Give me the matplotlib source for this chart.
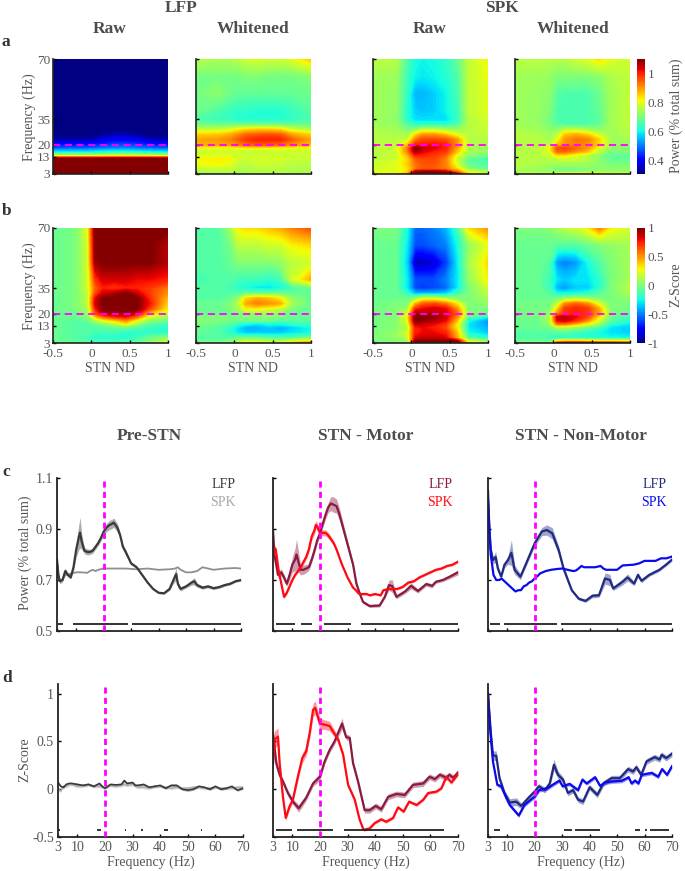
import numpy as np
import matplotlib
matplotlib.use("Agg")
import matplotlib.pyplot as plt
from matplotlib.cm import ScalarMappable
from matplotlib.colors import Normalize

plt.rcParams['font.family'] = ['Liberation Serif', 'DejaVu Serif']

W, H = 685, 871
GREY = '#555555'
MAG = '#ff00ff'

# heatmap grid: STN ND (columns), frequency in Hz (rows, from 3 up)
nd = [-0.5, -0.2, -0.05, 0.05, 0.15, 0.3, 0.45, 0.6, 0.75, 1]
freq = [3, 4, 6, 9, 12, 14, 16, 18, 20, 23, 26, 29, 32, 35, 40, 50, 60, 70]

a_lfp_raw = [
    [1.2] * 10, [1.2] * 10, [1.2] * 10, [1.2] * 10,
    [1.12, 1.12, 1.13, 1.12, 1.12, 1.13, 1.13, 1.12, 1.12, 1.12],
    [.72, .72, .72, .72, .73, .74, .74, .74, .73, .72],
    [.58, .58, .58, .59, .60, .61, .61, .60, .59, .58],
    [.48, .48, .48, .49, .50, .51, .51, .50, .49, .48],
    [.42, .42, .42, .43, .44, .46, .46, .45, .43, .42],
    [.34, .34, .34, .35, .38, .40, .40, .39, .35, .34],
    [.31, .31, .31, .31, .33, .34, .34, .33, .31, .31],
    [.31] * 10, [.31] * 10, [.31] * 10, [.31] * 10, [.31] * 10, [.31] * 10, [.31] * 10,
]
a_lfp_white = [
    [.76, .75, .76, .75, .76, .76, .76, .76, .76, .75],
    [.74, .74, .74, .74, .74, .74, .74, .74, .74, .74],
    [.77, .78, .78, .76, .76, .76, .77, .77, .76, .76],
    [.81, .82, .80, .77, .76, .78, .78, .77, .76, .76],
    [.82, .83, .82, .79, .78, .79, .79, .79, .78, .78],
    [.79, .79, .79, .78, .78, .78, .78, .78, .78, .78],
    [.77, .78, .78, .78, .77, .77, .78, .78, .78, .78],
    [.80, .80, .80, .81, .81, .81, .81, .80, .80, .80],
    [.88, .88, .89, .91, .93, .95, .94, .93, .90, .87],
    [.89, .90, .92, .95, .98, 1.0, 1.0, 1.0, .95, .89],
    [.85, .86, .88, .91, .94, .95, .96, .95, .89, .85],
    [.77, .77, .79, .82, .84, .85, .85, .84, .78, .75],
    [.69, .68, .68, .68, .68, .68, .68, .68, .68, .68],
    [.66, .64, .63, .62, .62, .62, .62, .62, .63, .66],
    [.69, .66, .64, .63, .63, .62, .62, .62, .64, .67],
    [.70, .72, .69, .68, .68, .68, .68, .68, .68, .69],
    [.70, .70, .70, .70, .71, .71, .70, .70, .70, .72],
    [.76, .75, .75, .76, .78, .79, .78, .78, .80, .86],
]
a_spk_raw = [
    [.82, .84, .90, 1.15, 1.2, 1.2, 1.2, 1.1, .85, .78],
    [.80, .80, .84, 1.08, 1.12, 1.12, 1.08, .95, .80, .76],
    [.78, .80, .84, .92, .95, .95, .92, .84, .72, .68],
    [.78, .80, .85, .93, .96, .96, .92, .78, .68, .66],
    [.76, .78, .85, .95, .97, .97, .92, .78, .68, .64],
    [.76, .78, .88, 1.0, 1.0, .98, .95, .80, .72, .70],
    [.76, .78, .92, 1.07, 1.03, 1.0, .98, .86, .74, .72],
    [.76, .78, .92, 1.12, 1.05, 1.03, 1.0, .88, .75, .74],
    [.76, .77, .86, 1.0, 1.0, 1.02, 1.0, .90, .75, .74],
    [.76, .76, .78, .92, .97, .97, .96, .90, .76, .76],
    [.76, .75, .74, .84, .90, .90, .86, .80, .76, .77],
    [.75, .74, .70, .72, .76, .76, .74, .72, .76, .78],
    [.74, .73, .66, .62, .62, .62, .62, .66, .76, .78],
    [.74, .72, .62, .58, .58, .58, .58, .63, .76, .79],
    [.74, .73, .62, .57, .56, .57, .60, .64, .77, .80],
    [.74, .73, .63, .55, .55, .57, .60, .65, .77, .80],
    [.74, .74, .64, .60, .59, .60, .62, .66, .77, .81],
    [.76, .76, .66, .61, .60, .61, .63, .68, .77, .82],
]
a_spk_white = [
    [.76, .76, .76, .86, .88, .88, .88, .85, .80, .78],
    [.74, .74, .74, .72, .72, .72, .73, .74, .74, .74],
    [.75, .74, .72, .70, .70, .70, .71, .72, .72, .72],
    [.76, .75, .74, .74, .74, .74, .74, .72, .70, .70],
    [.76, .76, .76, .78, .78, .78, .76, .72, .68, .68],
    [.76, .76, .78, .84, .84, .80, .77, .72, .68, .68],
    [.76, .76, .80, .94, .94, .90, .86, .76, .70, .70],
    [.76, .76, .82, .96, .97, .94, .90, .80, .72, .72],
    [.76, .76, .76, .86, .90, .92, .90, .84, .74, .72],
    [.76, .76, .74, .80, .90, .93, .92, .85, .74, .74],
    [.76, .75, .74, .76, .86, .88, .85, .78, .74, .76],
    [.75, .74, .72, .72, .76, .76, .74, .72, .74, .76],
    [.74, .73, .70, .67, .66, .66, .66, .68, .74, .77],
    [.74, .73, .70, .66, .66, .66, .66, .67, .74, .77],
    [.74, .73, .71, .66, .66, .66, .66, .68, .74, .77],
    [.74, .73, .72, .67, .66, .66, .66, .69, .74, .77],
    [.74, .74, .73, .71, .71, .71, .71, .72, .75, .77],
    [.76, .76, .76, .76, .76, .78, .80, .84, .80, .78],
]
b_lfp_raw = [
    [-.05, -.05, -.05, -.1, -.1, -.1, -.08, -.05, .1, .25],
    [-.05, -.1, -.1, -.15, -.15, -.15, -.15, -.1, 0, .15],
    [-.05, -.1, -.15, -.2, -.2, -.2, -.2, -.15, -.05, .05],
    [-.05, -.1, -.1, -.15, -.15, -.15, -.2, -.2, -.2, -.2],
    [-.05, -.1, -.1, -.1, -.1, -.05, -.05, -.1, -.15, -.2],
    [-.05, -.1, -.1, -.05, 0, .1, .3, .05, -.1, -.15],
    [-.05, -.1, -.05, .1, .25, .35, .5, .25, .05, -.05],
    [-.05, -.05, 0, .35, .55, .7, .75, .55, .2, .05],
    [-.05, -.05, .05, .6, .85, .9, .95, .8, .4, .15],
    [-.05, 0, .1, .75, 1.3, 1.3, 1.4, 1.3, .7, .3],
    [-.05, 0, .15, .85, 1.4, 1.4, 1.5, 1.4, .8, .35],
    [-.05, 0, .15, .8, 1.3, 1.3, 1.4, 1.2, .75, .4],
    [-.05, 0, .15, .65, .85, .9, 1.0, .85, .7, .5],
    [-.05, 0, .2, .6, .75, .7, .75, .75, .7, .55],
    [-.05, 0, .2, .7, .85, .85, .85, .8, .8, .75],
    [-.05, 0, .2, .95, 1.3, 1.3, 1.3, 1.3, 1.1, .9],
    [-.05, 0, .2, 1.2, 1.5, 1.5, 1.5, 1.5, 1.3, .9],
    [-.05, 0, .25, 1.3, 1.5, 1.5, 1.5, 1.5, 1.4, 1.0],
]
b_lfp_white = [
    [0, 0, .05, .2, .3, .3, .25, .3, .45, .55],
    [-.05, -.05, 0, .1, .2, .15, .1, .1, .2, .35],
    [-.1, -.1, -.1, -.05, -.05, -.05, -.1, -.1, -.1, 0],
    [-.05, -.1, -.2, -.3, -.35, -.35, -.35, -.35, -.3, -.25],
    [-.05, -.1, -.2, -.3, -.4, -.4, -.35, -.4, -.35, -.25],
    [0, -.05, -.1, -.2, -.25, -.3, -.25, -.25, -.2, -.15],
    [0, 0, -.05, -.05, -.05, -.05, -.05, -.1, -.1, -.1],
    [0, 0, 0, 0, .02, .02, .02, 0, -.05, -.05],
    [-.05, -.05, -.05, -.02, .02, .05, .05, 0, -.05, -.05],
    [-.05, -.05, 0, .1, .3, .3, .25, .2, 0, -.05],
    [-.05, -.05, 0, .15, .45, .55, .5, .45, .1, -.05],
    [-.1, -.1, -.05, .05, .35, .45, .4, .3, .05, -.05],
    [-.1, -.1, -.1, -.1, -.05, -.05, -.05, -.05, -.05, -.05],
    [-.1, -.1, -.15, -.2, -.25, -.3, -.3, -.25, -.15, -.05],
    [-.15, -.1, -.1, -.15, -.15, -.15, -.2, -.15, .2, .45],
    [-.1, -.1, -.05, .02, .02, .02, .02, .05, .15, .2],
    [-.1, -.1, -.02, .15, .15, .15, .2, .2, .3, .35],
    [-.1, -.1, .1, .3, .35, .35, .4, .45, .55, .65],
]
b_spk_raw = [
    [0, 0, .1, 1.3, 1.4, 1.4, 1.4, 1.1, .3, .1],
    [0, 0, .05, 1.1, 1.2, 1.2, 1.2, .95, .2, .05],
    [0, .05, .15, .82, .87, .87, .82, .45, -.1, -.2],
    [0, .05, .2, .75, .8, .8, .75, .4, -.25, -.35],
    [-.02, .02, .15, .75, .8, .75, .65, .3, -.3, -.4],
    [-.02, .02, .2, .85, .85, .8, .7, .3, -.3, -.45],
    [-.02, .02, .25, 1.1, .95, .9, .8, .4, -.25, -.45],
    [-.02, 0, .3, 1.2, 1.05, .95, .85, .5, -.1, -.3],
    [-.02, 0, .2, .95, .9, .9, .85, .6, 0, -.05],
    [-.02, 0, .1, .7, .8, .85, .8, .5, 0, 0],
    [-.02, 0, 0, .4, .6, .65, .55, .3, 0, .05],
    [-.05, -.05, -.05, .05, .2, .2, .1, 0, 0, .1],
    [-.05, -.05, -.2, -.4, -.4, -.4, -.35, -.15, 0, .15],
    [-.05, -.05, -.3, -.6, -.65, -.6, -.55, -.3, 0, .2],
    [-.05, -.05, -.3, -.6, -.6, -.6, -.5, -.3, .05, .3],
    [-.05, -.05, -.35, -.9, -.9, -.85, -.65, -.3, .1, .35],
    [-.05, -.05, -.3, -.6, -.6, -.55, -.5, -.25, .05, .25],
    [0, 0, -.25, -.55, -.55, -.5, -.4, -.15, .35, .5],
]
b_spk_white = [
    [-.02, -.02, -.02, .95, 1.1, 1.1, 1.1, 1.05, 1.0, .85],
    [-.05, -.05, -.05, .3, .4, .4, .35, .3, .3, .3],
    [-.1, -.1, -.15, -.2, -.2, -.2, -.2, -.2, -.25, -.25],
    [-.1, -.1, -.1, -.1, -.1, -.15, -.2, -.25, -.3, -.35],
    [-.05, -.05, -.02, .1, .1, .05, -.05, -.15, -.3, -.35],
    [-.05, -.05, .05, .55, .55, .4, .25, .05, -.2, -.3],
    [-.05, -.05, .1, .8, .85, .7, .5, .2, -.1, -.2],
    [-.02, -.02, .1, .85, .9, .8, .65, .3, -.05, -.15],
    [-.02, -.02, .05, .5, .7, .75, .7, .45, 0, -.1],
    [-.02, -.02, 0, .35, .7, .75, .7, .45, 0, -.02],
    [-.02, -.02, -.02, .15, .5, .6, .5, .2, 0, 0],
    [-.05, -.05, -.05, -.02, .05, .1, .05, 0, -.02, .05],
    [-.05, -.05, -.1, -.25, -.25, -.25, -.2, -.1, 0, .1],
    [-.05, -.05, -.15, -.4, -.45, -.35, -.35, -.2, 0, .15],
    [-.05, -.05, -.15, -.3, -.35, -.3, -.3, -.2, 0, .1],
    [-.05, -.05, -.1, -.45, -.5, -.45, -.25, -.1, 0, .1],
    [-.05, -.05, -.05, -.1, -.1, -.1, -.05, 0, .05, .1],
    [0, 0, .02, .1, .15, .2, .3, .55, .3, .2],
]

# panel c, Pre-STN
c1_lfp_f = [3, 3.5, 4, 5, 6, 7, 8, 9, 10, 11, 11.4, 12, 13, 14, 15, 16, 17, 18, 19, 20, 21, 22, 23, 23.6, 24, 25, 26, 27, 28, 30, 32, 34, 36, 38, 40, 42, 44, 45, 46, 46.4, 47, 48, 50, 52, 53, 54, 56, 58, 60, 62, 64, 66, 68, 70]
c1_lfp_y = [.78, .72, .695, .70, .735, .72, .71, .75, .82, .87, .886, .85, .815, .81, .81, .815, .83, .845, .865, .89, .905, .915, .92, .925, .92, .905, .875, .83, .81, .765, .75, .72, .69, .665, .65, .648, .665, .69, .715, .723, .685, .665, .675, .69, .695, .68, .67, .675, .668, .672, .68, .685, .695, .70]
c1_lfp_e = [.01, .01, .01, .008, .012, .008, .005, .015, .03, .05, .06, .03, .012, .012, .01, .01, .01, .01, .012, .014, .016, .018, .018, .018, .018, .016, .012, .01, .01, .006, .005, .005, .005, .004, .004, .004, .006, .01, .02, .024, .012, .008, .006, .01, .014, .008, .006, .006, .006, .005, .005, .005, .004, .004]
c1_spk_f = [3, 3.5, 4, 5, 6, 7, 8, 10, 12, 14, 15, 16, 17, 18, 20, 24, 28, 32, 36, 40, 44, 46, 47, 48, 50, 52, 54, 56, 58, 60, 64, 68, 70]
c1_spk_y = [.77, .72, .70, .70, .72, .72, .725, .73, .73, .728, .735, .74, .735, .74, .745, .745, .745, .742, .745, .74, .742, .745, .75, .74, .73, .73, .735, .75, .745, .74, .745, .747, .745]

# panel c, STN - Motor
c2_lfp_f = [3, 3.5, 4, 4.8, 6, 7, 8, 9, 10, 11, 11.5, 13, 14, 15, 16, 17, 18, 19, 20, 21, 22, 23, 24, 25, 26, 27, 28, 29, 30, 31, 32, 33.2, 34.4, 35.6, 38, 41.6, 43.5, 45, 46.2, 47.7, 50.7, 53, 55.5, 58.5, 60.6, 62, 64.5, 67, 70]
c2_lfp_y = [.896, .80, .77, .72, .73, .71, .685, .72, .76, .78, .80, .74, .74, .745, .75, .78, .815, .855, .883, .92, .955, .985, 1.0, .995, .99, .96, .92, .88, .84, .80, .76, .686, .647, .614, .598, .60, .634, .68, .676, .634, .654, .677, .657, .684, .677, .693, .70, .713, .73]
c2_lfp_e = [.03, .02, .012, .012, .014, .012, .01, .02, .03, .045, .06, .02, .018, .016, .012, .012, .012, .012, .012, .016, .018, .02, .028, .03, .028, .024, .02, .018, .016, .014, .012, .01, .008, .006, .006, .006, .006, .02, .025, .008, .008, .012, .008, .008, .008, .006, .006, .008, .01]
c2_spk_f = [3, 3.5, 4, 5, 6, 7, 8, 9, 10, 11, 12, 13, 14, 15, 16, 17, 18, 18.5, 19, 20, 21, 22, 23, 24, 25, 26, 27, 28, 29, 30, 31, 32, 33, 34, 35, 37, 38, 40, 42, 43, 45, 48, 50, 52, 54, 56, 58, 60, 62, 64, 66, 68, 70]
c2_spk_y = [.79, .824, .82, .74, .686, .634, .65, .675, .70, .72, .735, .75, .77, .79, .82, .87, .895, .916, .91, .885, .885, .885, .875, .86, .844, .82, .79, .76, .735, .71, .69, .67, .66, .647, .645, .645, .64, .645, .64, .66, .665, .665, .673, .69, .695, .71, .72, .73, .74, .745, .755, .76, .772]
c2_spk_e = [.012, .012, .012, .008, .008, .008, .006, .006, .006, .006, .008, .01, .01, .01, .012, .014, .016, .016, .016, .012, .012, .012, .012, .01, .01, .008, .006, .005, .005, .004, .004, .004, .004, .004, .004, .004, .004, .004, .004, .004, .004, .004, .004, .004, .004, .004, .004, .004, .004, .004, .004, .004, .004]

# panel c, STN - Non-Motor
c3_lfp_f = [3, 3.5, 4, 4.8, 5.8, 6.6, 7.8, 9, 10.3, 11.5, 12.7, 14.8, 16.3, 20, 22.6, 24.4, 26.4, 28.7, 30.5, 33.5, 36, 38.5, 41, 43.4, 45.6, 47.4, 48.6, 52, 53.8, 56.2, 57.6, 58.9, 61.7, 65.4, 67.8, 70]
c3_lfp_y = [1.05, .90, .82, .778, .79, .745, .713, .76, .778, .807, .74, .713, .75, .844, .89, .896, .883, .818, .745, .66, .627, .618, .638, .64, .706, .70, .667, .693, .71, .686, .72, .697, .72, .74, .76, .78]
c3_lfp_e = [.02, .012, .012, .014, .022, .012, .006, .012, .016, .05, .018, .012, .01, .012, .016, .02, .022, .016, .012, .006, .006, .006, .008, .008, .022, .022, .008, .012, .014, .008, .01, .008, .006, .006, .006, .006]
c3_spk_f = [3, 3.5, 4, 5, 6, 7, 8, 9, 10, 11, 12, 13, 14, 15, 16, 17, 18, 19, 20, 21, 22, 24, 26, 28, 30, 32, 34, 35, 36, 37, 38, 40, 42, 44, 45, 46, 50, 52, 56, 58, 60, 62, 64, 66, 68, 70]
c3_spk_y = [1.01, .90, .80, .72, .70, .70, .705, .695, .685, .675, .665, .655, .66, .66, .675, .68, .69, .695, .706, .715, .726, .735, .74, .743, .745, .74, .735, .737, .745, .755, .75, .75, .75, .755, .745, .74, .74, .757, .76, .765, .775, .775, .775, .785, .785, .792]

# panel d, Pre-STN
d1_f = [3, 4, 5, 6, 7, 8, 10, 12, 14, 16, 18, 19, 20, 22, 24, 26, 27, 28, 30, 31, 32, 34, 36, 38, 40, 42, 44, 46, 48, 50, 52, 54, 56, 58, 60, 62, 64, 66, 68, 70]
d1_lfp_y = [.07, .03, .02, .05, .06, .06, .05, .04, .05, .03, .06, .03, .01, .05, .045, .05, .09, .06, .07, .04, .04, .05, .02, .03, .04, .01, .04, .04, 0, -.01, 0, .03, .02, 0, .03, 0, .01, .03, -.01, .01]
d1_spk_y = [0, -.02, .03, .03, .05, .05, .03, .03, .05, .03, .03, .02, .02, .04, .03, .04, .05, .04, .05, .03, .02, .02, .01, .03, .03, .02, .01, .02, .01, .01, .02, .02, .01, .01, .02, .01, .01, .01, .02, .02]

# panel d, STN - Motor
d2_lfp_f = [3, 4.2, 5.4, 6.6, 8.4, 10.2, 12.3, 15, 17.5, 20, 21.7, 23.5, 25.3, 26.6, 28, 29.5, 30.8, 32, 33.8, 36.2, 38, 40.2, 42.2, 44.7, 47.7, 50.7, 53.7, 57.4, 59.7, 61.6, 63.4, 65.8, 66.8, 68.3, 70]
d2_lfp_y = [.587, .27, .15, .08, -.04, -.13, -.2, -.09, .06, .13, .29, .41, .5, .59, .685, .545, .535, .27, .08, -.22, -.22, -.175, -.21, -.08, -.05, -.06, .045, .06, .13, .105, .15, .12, .15, .12, .175]
d2_lfp_e = [.07, .05, .03, .03, .03, .03, .04, .03, .03, .04, .03, .03, .03, .04, .06, .03, .03, .03, .03, .03, .03, .03, .03, .03, .03, .03, .03, .03, .03, .03, .03, .03, .03, .03, .03]
d2_spk_f = [3, 3.6, 4.8, 5.4, 6.6, 7.6, 9, 10.2, 12, 13.6, 15, 16.3, 17.5, 18.3, 20, 21.7, 23.5, 26.6, 28.4, 30.2, 32.6, 34.4, 35.8, 38, 39.8, 42.2, 44, 46.5, 48.3, 50.3, 52.3, 55, 57.4, 59.2, 62.2, 64, 65.8, 67.6, 70]
d2_spk_y = [.27, .52, .55, .27, -.08, -.30, -.18, -.11, .13, .325, .395, .59, .83, .85, .685, .675, .66, .52, .36, .045, -.11, -.32, -.425, -.41, -.355, -.315, -.34, -.30, -.19, -.235, -.13, -.165, -.11, -.04, -.025, .01, .13, .07, .16]
d2_spk_e = [.08, .09, .09, .06, .04, .03, .03, .03, .04, .05, .05, .06, .07, .07, .06, .05, .05, .03, .03, .02, .02, .02, .015, .015, .015, .015, .015, .015, .015, .015, .015, .015, .015, .015, .015, .015, .02, .02, .02]

# panel d, STN - Non-Motor
d3_lfp_f = [3, 3.5, 4, 4.8, 6, 7.2, 9, 10.9, 13.3, 15.1, 17.6, 20, 21.5, 23.7, 25.5, 27, 28.5, 30.3, 32.1, 34, 35.8, 37.6, 40, 42.8, 45, 48, 51, 54, 55.8, 57, 58.8, 60.7, 63.7, 65.5, 66.2, 67.9, 70]
d3_lfp_y = [1.0, .80, .60, .35, .35, .115, -.04, -.14, -.13, -.175, -.095, -.025, .03, -.01, .06, .255, .15, .1, -.04, -.01, -.11, -.13, .02, -.06, .06, .115, .115, .21, .185, .23, .15, .29, .335, .31, .36, .325, .37]
d3_lfp_e = [.02, .03, .04, .05, .05, .03, .03, .04, .04, .03, .03, .03, .03, .03, .03, .06, .04, .03, .03, .03, .03, .03, .03, .03, .03, .03, .03, .03, .03, .03, .03, .03, .03, .03, .03, .03, .03]
d3_spk_f = [3, 3.5, 4, 4.8, 6.4, 7.8, 9.7, 10.9, 14.2, 16.3, 18.8, 20, 21.6, 24.7, 26.5, 29, 30.2, 32.7, 35.8, 37.4, 38.9, 42, 43.8, 45.7, 48, 51.7, 54.2, 55.3, 56.5, 57.8, 59, 62.6, 65, 66.4, 68.2, 70]
d3_spk_y = [1.0, .75, .55, .29, .045, .03, -.095, -.165, -.275, -.165, -.105, -.08, -.01, .01, .045, .09, .03, .055, -.01, .1, .06, .125, .035, .07, .08, .087, .125, .06, .09, .06, .15, .17, .13, .21, .15, .24]
d3_spk_e = [.02] * len(d3_spk_f)

# significance runs (start Hz, end Hz)
c1_sig = [(3.4, 5.2), (8.8, 28.8), (30.3, 70)]
c2_sig = [(4, 10.9), (13.3, 17.3), (21.4, 31.4), (34.8, 70)]
c3_sig = [(3.6, 7.2), (9, 28.2), (29.6, 70)]
d1_sig = [(3.1, 3.9), (17, 18.5), (27.1, 27.5), (33, 33.8), (41.3, 42.8), (54.8, 55.2)]
d2_sig = [(4.2, 10), (11.7, 24.7), (28.7, 65)]
d3_sig = [(5.2, 7.5), (30.8, 33.5), (34.5, 43.7), (56.7, 58.3), (60, 61), (62, 69)]

LFP_BLACK, SPK_GREY = '#3a3a3a', '#8f8f8f'
LFP_WINE, SPK_RED = '#8a1a40', '#ff0a14'
LFP_NAVY, SPK_BLUE = '#1f2a80', '#0a0aee'

fig = plt.figure(figsize=(W / 100, H / 100), dpi=100)


def ax_px(x0, y0, x1, y1):
    return fig.add_axes([x0 / W, 1 - y1 / H, (x1 - x0) / W, (y1 - y0) / H])


def txt(x, y, s, **kw):
    kw.setdefault('color', GREY)
    kw.setdefault('fontsize', 10)
    kw.setdefault('ha', 'center')
    kw.setdefault('va', 'center')
    fig.text(x / W, 1 - y / H, s, **kw)


def heat(x0, y0, z, vmin, vmax, left_labels, bottom_labels):
    ax = ax_px(x0, y0, x0 + 115, y0 + 115)
    zz = np.clip(np.array(z, dtype=float), vmin, vmax)
    ax.contourf(nd, freq, zz, levels=np.linspace(vmin, vmax, 120), cmap='jet',
                vmin=vmin, vmax=vmax, extend='both', antialiased=False)
    ax.axhline(20, color=MAG, lw=1.3, ls=(0, (4, 2.5)))
    ax.set_xlim(-0.5, 1)
    ax.set_ylim(3, 70)
    ax.set_xticks([-0.5, 0, 0.5, 1])
    ax.set_xticklabels(['-0.5', '0', '0.5', '1'] if bottom_labels else [])
    ax.set_yticks([3, 13, 20, 35, 70])
    ax.set_yticklabels(['3', '13', '20', '35', '70'] if left_labels else [])
    ax.tick_params(direction='in', length=2.5, width=1, labelsize=9.5,
                   labelcolor=GREY, top=False, right=False)
    ax.tick_params(axis='x', pad=3.5)
    ax.tick_params(axis='y', pad=2)
    for side in ('top', 'right'):
        ax.spines[side].set_visible(False)
    for side in ('left', 'bottom'):
        ax.spines[side].set_linewidth(1.2)
        ax.spines[side].set_color('#222222')
    return ax


def cbar(y0, vmin, vmax, ticks, labels):
    cax = ax_px(637, y0, 645, y0 + 115)
    sm = ScalarMappable(Normalize(vmin, vmax), 'jet')
    cb = fig.colorbar(sm, cax=cax)
    cb.set_ticks(ticks, labels=labels)
    cb.ax.tick_params(length=0, pad=2, labelsize=9.5, labelcolor=GREY)
    cb.outline.set_visible(False)


def lines_ax(x0, y0, x1, y1, ylim, yticks, ylabels, xlabels, sig, sig_y):
    ax = ax_px(x0, y0, x1, y1)
    ax.set_xlim(3, 70)
    ax.set_ylim(*ylim)
    ax.axvline(20, color=MAG, lw=2, ls=(0, (2.2, 1.5)), zorder=5)
    ax.hlines([sig_y] * len(sig), [s[0] for s in sig], [s[1] for s in sig],
              color='#222222', lw=1.3, zorder=4)
    ax.set_xticks([3, 10, 20, 30, 40, 50, 60, 70])
    ax.set_xticklabels(['3', '10', '20', '30', '40', '50', '60', '70'] if xlabels else [])
    ax.set_yticks(yticks)
    ax.set_yticklabels(ylabels)
    ax.tick_params(direction='in', length=2.5, width=1, pad=3, labelsize=10, labelcolor=GREY)
    for side in ('top', 'right'):
        ax.spines[side].set_visible(False)
    for side in ('left', 'bottom'):
        ax.spines[side].set_linewidth(1.3)
        ax.spines[side].set_color('#222222')
    ax.patch.set_alpha(0)
    return ax


def curve(ax, f, y, e, color, lw=1.6):
    f, y = np.array(f), np.array(y)
    if e is not None:
        e = np.array(e)
        ax.fill_between(f, y - e, y + e, color=color, alpha=0.42, lw=0)
    ax.plot(f, y, color=color, lw=lw, solid_joinstyle='round', clip_on=True)


# heatmaps
heat(53, 59, a_lfp_raw, .31, 1.1, True, False)
heat(196, 59, a_lfp_white, .31, 1.1, False, False)
heat(373, 59, a_spk_raw, .31, 1.1, False, False)
heat(515, 59, a_spk_white, .31, 1.1, False, False)
heat(53, 228, b_lfp_raw, -1, 1, True, True)
heat(196, 228, b_lfp_white, -1, 1, False, True)
heat(373, 228, b_spk_raw, -1, 1, False, True)
heat(515, 228, b_spk_white, -1, 1, False, True)
cbar(59, .31, 1.1, [.4, .6, .8, 1], ['0.4', '0.6', '0.8', '1'])
cbar(228, -1, 1, [-1, -.5, 0, .5, 1], ['-1', '-0.5', '0', '0.5', '1'])

# line panels, power
c_ticks, c_labels = [.5, .7, .9, 1.1], ['0.5', '0.7', '0.9', '1.1']
ax = lines_ax(57, 478, 241, 631, (.5, 1.1), c_ticks, c_labels, False, c1_sig, .526)
curve(ax, c1_spk_f, c1_spk_y, None, SPK_GREY, 1.3)
curve(ax, c1_lfp_f, c1_lfp_y, c1_lfp_e, LFP_BLACK)
ax = lines_ax(273, 478, 458, 631, (.5, 1.1), c_ticks, [], False, c2_sig, .526)
curve(ax, c2_lfp_f, c2_lfp_y, c2_lfp_e, LFP_WINE)
curve(ax, c2_spk_f, c2_spk_y, c2_spk_e, SPK_RED)
ax = lines_ax(488, 478, 672, 631, (.5, 1.1), c_ticks, [], False, c3_sig, .526)
curve(ax, c3_lfp_f, c3_lfp_y, c3_lfp_e, LFP_NAVY)
curve(ax, c3_spk_f, c3_spk_y, None, SPK_BLUE)

# line panels, z-score
d_ticks, d_labels = [-.5, 0, .5, 1], ['-0.5', '0', '0.5', '1']
ax = lines_ax(58, 684, 243, 837, (-.5, 1.1), d_ticks, d_labels, True, d1_sig, -.43)
curve(ax, d1_f, d1_spk_y, [.015] * len(d1_f), '#b0b0b0', 1.2)
curve(ax, d1_f, d1_lfp_y, [.012] * len(d1_f), LFP_BLACK, 1.2)
ax = lines_ax(273, 684, 458, 837, (-.5, 1.1), d_ticks, [], True, d2_sig, -.43)
curve(ax, d2_lfp_f, d2_lfp_y, d2_lfp_e, LFP_WINE)
curve(ax, d2_spk_f, d2_spk_y, d2_spk_e, SPK_RED)
ax = lines_ax(488, 684, 672, 837, (-.5, 1.1), d_ticks, [], True, d3_sig, -.43)
curve(ax, d3_lfp_f, d3_lfp_y, d3_lfp_e, LFP_NAVY)
curve(ax, d3_spk_f, d3_spk_y, d3_spk_e, SPK_BLUE)

# titles and labels
title_kw = dict(fontsize=12.5, fontweight='bold', color='#4d4d4d')
txt(181, 8, 'LFP', **title_kw)
txt(502, 8, 'SPK', **title_kw)
txt(110, 29, 'Raw', **title_kw)
txt(253, 29, 'Whitened', **title_kw)
txt(430, 29, 'Raw', **title_kw)
txt(573, 29, 'Whitened', **title_kw)
txt(149, 436, 'Pre-STN', **title_kw)
txt(366, 436, 'STN - Motor', **title_kw)
txt(581, 436, 'STN - Non-Motor', **title_kw)

letter_kw = dict(fontsize=12.5, fontweight='bold', color='#333333', ha='left')
txt(2, 42, 'a', **letter_kw)
txt(2, 211, 'b', **letter_kw)
txt(2, 472, 'c', **letter_kw)
txt(2, 678, 'd', **letter_kw)

txt(29, 117, 'Frequency (Hz)', rotation=90)
txt(29, 286, 'Frequency (Hz)', rotation=90)
txt(676, 116, 'Power (% total sum)', rotation=90)
txt(676, 285, 'Z-Score', rotation=90)
txt(25, 553, 'Power (% total sum)', rotation=90)
txt(25, 760, 'Z-Score', rotation=90)
for cx, cx2 in ((110, 151), (253, 366), (430, 581), (573, None)):
    txt(cx, 368, 'STN ND')
    if cx2:
        txt(cx2, 862, 'Frequency (Hz)')

for rx, c_lfp, c_spk in ((236, LFP_BLACK, '#a8a8a8'), (453, LFP_WINE, SPK_RED), (667, LFP_NAVY, SPK_BLUE)):
    txt(rx, 484, 'LFP', ha='right', color=c_lfp)
    txt(rx, 502, 'SPK', ha='right', color=c_spk)

fig.savefig('out.png', dpi=100)
